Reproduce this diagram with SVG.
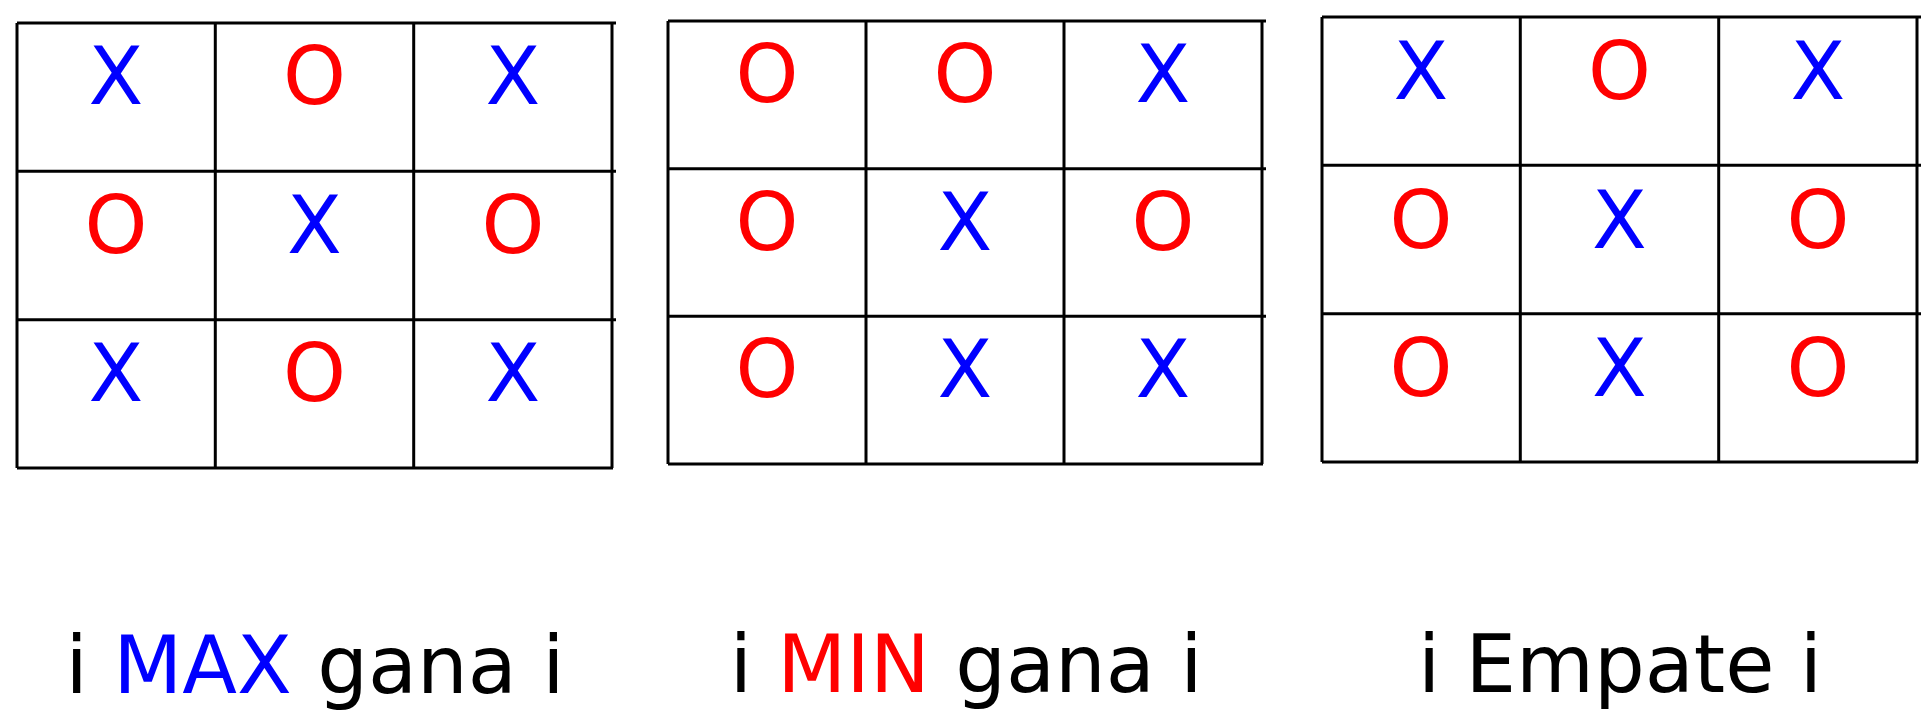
<svg xmlns="http://www.w3.org/2000/svg" width="1929" height="720" viewBox="0 0 1929 720">
<style>
.g line{stroke:#000;stroke-width:3}
.c{font-family:"DejaVu Sans","Verdana",sans-serif;font-size:80px;text-anchor:middle}
.x{fill:#0000ff}
.o{fill:#ff0000}
.k{fill:#000}
</style>
<rect width="1929" height="720" fill="#fff"/>
<g id="board-max" class="g">
<line x1="17" y1="23" x2="616" y2="23"/>
<line x1="17" y1="171.3" x2="616" y2="171.3"/>
<line x1="17" y1="319.7" x2="616" y2="319.7"/>
<line x1="17" y1="468" x2="613" y2="468"/>
<line x1="17" y1="23" x2="17" y2="468"/>
<line x1="215.3" y1="23" x2="215.3" y2="468"/>
<line x1="413.7" y1="23" x2="413.7" y2="468"/>
<line x1="612" y1="23" x2="612" y2="468"/>
<text class="c x" x="116" y="104">X</text>
<text class="c o" x="314.5" y="104">O</text>
<text class="c x" x="513" y="104">X</text>
<text class="c o" x="116" y="252.5">O</text>
<text class="c x" x="314.5" y="252.5">X</text>
<text class="c o" x="513" y="252.5">O</text>
<text class="c x" x="116" y="401">X</text>
<text class="c o" x="314.5" y="401">O</text>
<text class="c x" x="513" y="401">X</text>
</g>
<g id="board-min" class="g">
<line x1="668" y1="21" x2="1266" y2="21"/>
<line x1="668" y1="168.7" x2="1266" y2="168.7"/>
<line x1="668" y1="316.3" x2="1266" y2="316.3"/>
<line x1="668" y1="464" x2="1263" y2="464"/>
<line x1="668" y1="21" x2="668" y2="464"/>
<line x1="866" y1="21" x2="866" y2="464"/>
<line x1="1064" y1="21" x2="1064" y2="464"/>
<line x1="1262" y1="21" x2="1262" y2="464"/>
<text class="c o" x="767" y="102">O</text>
<text class="c o" x="965" y="102">O</text>
<text class="c x" x="1163" y="102">X</text>
<text class="c o" x="767" y="249.5">O</text>
<text class="c x" x="965" y="249.5">X</text>
<text class="c o" x="1163" y="249.5">O</text>
<text class="c o" x="767" y="397">O</text>
<text class="c x" x="965" y="397">X</text>
<text class="c x" x="1163" y="397">X</text>
</g>
<g id="board-draw" class="g">
<line x1="1322" y1="17" x2="1921" y2="17"/>
<line x1="1322" y1="165.3" x2="1921" y2="165.3"/>
<line x1="1322" y1="313.7" x2="1921" y2="313.7"/>
<line x1="1322" y1="462" x2="1918" y2="462"/>
<line x1="1322" y1="17" x2="1322" y2="462"/>
<line x1="1520.3" y1="17" x2="1520.3" y2="462"/>
<line x1="1718.7" y1="17" x2="1718.7" y2="462"/>
<line x1="1917" y1="17" x2="1917" y2="462"/>
<text class="c x" x="1421" y="99">X</text>
<text class="c o" x="1619.5" y="99">O</text>
<text class="c x" x="1818" y="99">X</text>
<text class="c o" x="1421" y="247.5">O</text>
<text class="c x" x="1619.5" y="247.5">X</text>
<text class="c o" x="1818" y="247.5">O</text>
<text class="c o" x="1421" y="396">O</text>
<text class="c x" x="1619.5" y="396">X</text>
<text class="c o" x="1818" y="396">O</text>
</g>
<g id="label-max">
<text class="c k" x="315" y="693">i <tspan class="x">MAX</tspan> gana i</text>
</g>
<g id="label-min">
<text class="c k" x="966" y="692">i <tspan class="o">MIN</tspan> gana i</text>
</g>
<g id="label-draw">
<text class="c k" x="1620" y="692">i Empate i</text>
</g>
<g id="connectors"/>
</svg>
